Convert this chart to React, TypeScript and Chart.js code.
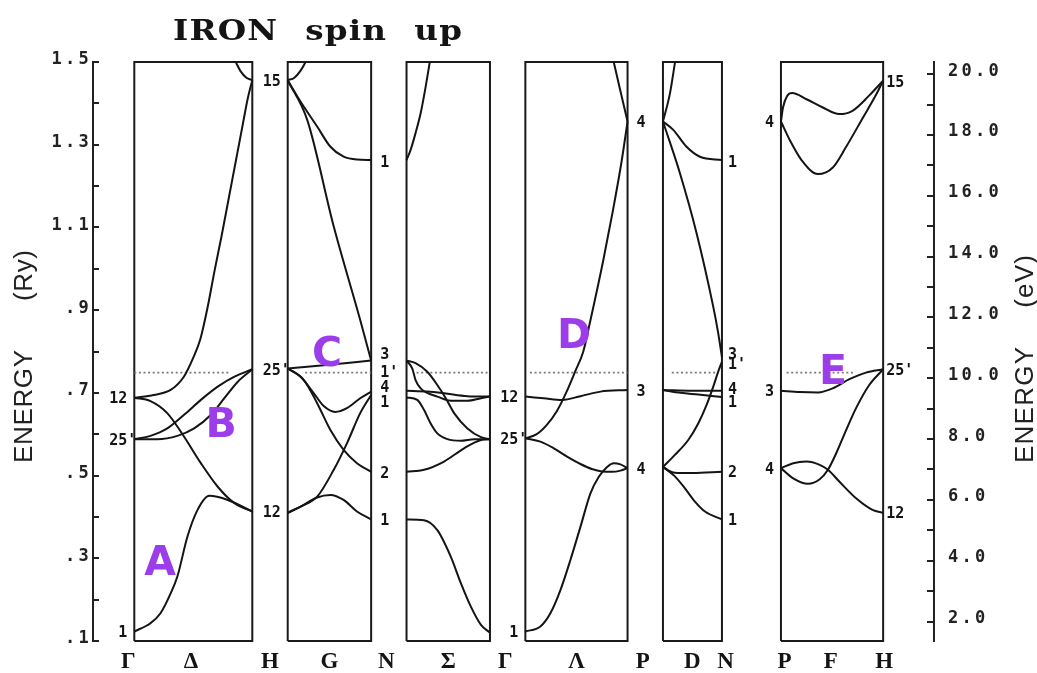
import React, { useEffect, useRef } from 'react';
import { Chart, registerables } from 'chart.js';

Chart.register(...registerables);

// ---------------- data ----------------
const titleText = 'IRON spin up';
const leftAxisTitle = 'ENERGY (Ry)';
const rightAxisTitle = 'ENERGY (eV)';
const kPointLabels = ['Γ', 'Δ', 'H', 'G', 'N', 'Σ', 'Γ', 'Λ', 'P', 'D', 'N', 'P', 'F', 'H'];
const ryTickValues = [0.1, 0.3, 0.5, 0.7, 0.9, 1.1, 1.3, 1.5];
const ryTickLabels = ['.1', '.3', '.5', '.7', '.9', '1.1', '1.3', '1.5'];
const evTickValues = [2, 4, 6, 8, 10, 12, 14, 16, 18, 20];
const evTickLabels = ['2.0', '4.0', '6.0', '8.0', '10.0', '12.0', '14.0', '16.0', '18.0', '20.0'];
const evPerRy = 13.6;
const energyMin = 0.1;
const energyMax = 1.5;
const fermiEnergy = 0.749;

// Brillouin-zone path lengths (2π/a): Γ-H, H-N, N-Γ, Γ-P, P-N, P-H
const panelLengths = [1, 0.7071, 0.7071, 0.866, 0.5, 0.866];

// bands: [k fraction along the segment, energy (Ry)]
const bandsDelta = [
  [[0, 0.123], [0.137, 0.143], [0.222, 0.167], [0.308, 0.215], [0.365, 0.256], [0.45, 0.352], [0.536, 0.417], [0.635, 0.451], [0.792, 0.441], [1, 0.413]],
  [[0, 0.688], [0.137, 0.68], [0.279, 0.651], [0.422, 0.594], [0.564, 0.53], [0.707, 0.473], [0.849, 0.433], [1, 0.413]],
  [[0, 0.688], [0.165, 0.695], [0.308, 0.707], [0.42, 0.739], [0.5, 0.785], [0.56, 0.83], [0.62, 0.905], [0.68, 0.995], [0.74, 1.08], [0.8, 1.17], [0.86, 1.26], [0.92, 1.35], [0.96, 1.41], [1, 1.456]],
  [[0, 0.588], [0.137, 0.596], [0.279, 0.614], [0.422, 0.647], [0.564, 0.683], [0.707, 0.715], [0.849, 0.739], [1, 0.757]],
  [[0, 0.588], [0.194, 0.588], [0.365, 0.596], [0.507, 0.614], [0.65, 0.647], [0.763, 0.687], [0.877, 0.727], [1, 0.757]],
  [[0.84, 1.513], [0.87, 1.494], [0.9, 1.478], [0.95, 1.462], [1, 1.456]],
];
const bandsG = [
  [[0, 1.456], [0.08, 1.462], [0.15, 1.478], [0.214, 1.5], [0.26, 1.521]],
  [[0, 1.456], [0.155, 1.404], [0.353, 1.344], [0.512, 1.295], [0.67, 1.271], [0.83, 1.264], [1, 1.263]],
  [[0, 1.456], [0.234, 1.36], [0.552, 1.102], [0.869, 0.876], [1, 0.778]],
  [[0, 0.759], [0.5, 0.768], [1, 0.778]],
  [[0, 0.759], [0.155, 0.739], [0.313, 0.699], [0.432, 0.668], [0.571, 0.654], [0.71, 0.663], [0.869, 0.687], [1, 0.703]],
  [[0, 0.759], [0.194, 0.731], [0.353, 0.675], [0.512, 0.61], [0.67, 0.562], [0.83, 0.53], [1, 0.509]],
  [[0, 0.41], [0.155, 0.425], [0.353, 0.449], [0.552, 0.514], [0.71, 0.578], [0.869, 0.651], [1, 0.695]],
  [[0, 0.41], [0.155, 0.425], [0.353, 0.447], [0.512, 0.453], [0.67, 0.441], [0.83, 0.413], [1, 0.394]],
];
const bandsSigma = [
  [[0, 1.263], [0.048, 1.287], [0.108, 1.328], [0.169, 1.376], [0.229, 1.44], [0.277, 1.498], [0.31, 1.54]],
  [[0, 0.778], [0.108, 0.772], [0.249, 0.751], [0.369, 0.719], [0.47, 0.687], [0.57, 0.651], [0.73, 0.614], [0.892, 0.593], [1, 0.588]],
  [[0, 0.778], [0.068, 0.759], [0.108, 0.731], [0.169, 0.711], [0.249, 0.7], [0.369, 0.691], [0.53, 0.681], [0.73, 0.681], [0.892, 0.687], [1, 0.691]],
  [[0, 0.705], [0.249, 0.703], [0.45, 0.699], [0.73, 0.692], [1, 0.691]],
  [[0, 0.689], [0.129, 0.683], [0.209, 0.659], [0.289, 0.626], [0.369, 0.602], [0.49, 0.588], [0.651, 0.584], [0.811, 0.588], [1, 0.588]],
  [[0, 0.509], [0.209, 0.514], [0.45, 0.534], [0.69, 0.566], [0.892, 0.586], [1, 0.588]],
  [[0, 0.394], [0.209, 0.392], [0.369, 0.368], [0.53, 0.304], [0.651, 0.24], [0.771, 0.183], [0.892, 0.139], [1, 0.12]],
];
const bandsLambda = [
  [[0, 0.123], [0.147, 0.135], [0.245, 0.167], [0.343, 0.223], [0.441, 0.296], [0.539, 0.376], [0.637, 0.457], [0.719, 0.497], [0.8, 0.521], [0.866, 0.53], [0.931, 0.527], [1, 0.518]],
  [[0, 0.59], [0.147, 0.582], [0.278, 0.566], [0.408, 0.546], [0.539, 0.528], [0.65, 0.516], [0.75, 0.51], [0.85, 0.509], [0.931, 0.512], [1, 0.518]],
  [[0, 0.59], [0.111, 0.6], [0.208, 0.622], [0.306, 0.655], [0.404, 0.703], [0.486, 0.751], [0.567, 0.8], [0.632, 0.87], [0.762, 1.02], [0.86, 1.145], [0.942, 1.26], [1, 1.356]],
  [[0.84, 1.526], [0.92, 1.441], [1, 1.356]],
  [[0, 0.691], [0.18, 0.687], [0.36, 0.683], [0.539, 0.692], [0.735, 0.703], [1, 0.707]],
];
const bandsD = [
  [[0, 1.356], [0.119, 1.424], [0.203, 1.498], [0.24, 1.53]],
  [[0, 1.356], [0.175, 1.336], [0.4, 1.295], [0.627, 1.271], [1, 1.263]],
  [[0, 1.356], [0.288, 1.231], [0.57, 1.086], [0.853, 0.908], [0.93, 0.85], [1, 0.787]],
  [[0, 0.521], [0.203, 0.55], [0.429, 0.586], [0.598, 0.626], [0.74, 0.671], [0.853, 0.715], [0.938, 0.752], [1, 0.775]],
  [[0, 0.521], [0.1, 0.512], [0.2, 0.507], [0.5, 0.506], [1, 0.509]],
  [[0, 0.521], [0.203, 0.498], [0.373, 0.469], [0.542, 0.437], [0.712, 0.413], [1, 0.394]],
  [[0, 0.707], [0.5, 0.705], [1, 0.705]],
  [[0, 0.707], [0.3, 0.7], [0.6, 0.696], [1, 0.69]],
];
const bandsF = [
  [[0, 1.356], [0.02, 1.39], [0.06, 1.418], [0.11, 1.425], [0.25, 1.41], [0.41, 1.39], [0.57, 1.374], [0.7, 1.382], [0.86, 1.418], [1, 1.455]],
  [[0, 1.356], [0.087, 1.311], [0.201, 1.263], [0.362, 1.229], [0.508, 1.245], [0.638, 1.295], [0.799, 1.364], [0.929, 1.42], [1, 1.455]],
  [[0, 0.705], [0.184, 0.702], [0.362, 0.701], [0.508, 0.711], [0.67, 0.733], [0.832, 0.749], [1, 0.757]],
  [[0, 0.518], [0.12, 0.53], [0.249, 0.534], [0.379, 0.526], [0.46, 0.514], [0.573, 0.485], [0.735, 0.445], [0.896, 0.417], [1, 0.41]],
  [[0, 0.518], [0.12, 0.493], [0.265, 0.48], [0.379, 0.491], [0.46, 0.514], [0.541, 0.554], [0.638, 0.61], [0.735, 0.663], [0.864, 0.719], [1, 0.757]],
];
const allBands = [bandsDelta, bandsG, bandsSigma, bandsLambda, bandsD, bandsF];

// dotted Fermi-level segments, as k fractions of each panel
const fermiRanges = [[0, 0.81], [0.21, 1], [0.12, 1], [0.045, 1], [0.15, 0.93], [0.055, 0.73]];

// symmetry labels: [label, energy (Ry)]
const gammaLabelsA = [['12', 0.688], ["25'", 0.588], ['1', 0.123]];
const hLabelsA = [['15', 1.454], ["25'", 0.757], ['12', 0.412]];
const nLabelsA = [['1', 1.259], ['3', 0.796], ["1'", 0.751], ['4', 0.715], ['1', 0.679], ['2', 0.507], ['1', 0.393]];
const gammaLabelsB = [['12', 0.691], ["25'", 0.59], ['1', 0.123]];
const pLabelsA = [['4', 1.357], ['3', 0.705], ['4', 0.516]];
const nLabelsB = [['1', 1.26], ['3', 0.796], ["1'", 0.771], ['4', 0.711], ['1', 0.679], ['2', 0.509], ['1', 0.393]];
const pLabelsB = [['4', 1.356], ['3', 0.705], ['4', 0.518]];
const hLabelsB = [['15', 1.452], ["25'", 0.757], ['12', 0.41]];

// purple region markers
const markerLetters = ['A', 'B', 'C', 'D', 'E'];
const markerPanels = [0, 0, 1, 3, 5];
const markerK = [0.218, 0.735, 0.471, 0.476, 0.509];
const markerEnergy = [0.296, 0.63, 0.801, 0.845, 0.758];

// ---------------- layout ----------------
const W = 1037;
const H = 673;
const panelStarts = [0.35, 1.65, 2.657, 3.664, 4.83, 5.83];
const xMax = 7.127;
const pEnd = (p: number) => panelStarts[p] + panelLengths[p];
const pMid = (p: number) => panelStarts[p] + panelLengths[p] / 2;
const gapMid = (p: number) => (pEnd(p) + panelStarts[p + 1]) / 2;
const kPointPositions = [
  panelStarts[0] - 0.05, pMid(0) - 0.02, gapMid(0), pMid(1), gapMid(1) - 0.02, pMid(2),
  gapMid(2) - 0.02, pMid(3), gapMid(3) - 0.02, pMid(4), pEnd(4) + 0.03, panelStarts[5] + 0.03,
  pMid(5) - 0.01, pEnd(5) + 0.01,
];
const edgeLabelLayout = [
  { labels: gammaLabelsA, panel: 0, side: 'left', gap: 7 },
  { labels: hLabelsA, panel: 1, side: 'left', gap: 7 },
  { labels: nLabelsA, panel: 1, side: 'right', gap: 9 },
  { labels: gammaLabelsB, panel: 3, side: 'left', gap: 7 },
  { labels: pLabelsA, panel: 3, side: 'right', gap: 9 },
  { labels: nLabelsB, panel: 4, side: 'right', gap: 6 },
  { labels: pLabelsB, panel: 5, side: 'left', gap: 7 },
  { labels: hLabelsB, panel: 5, side: 'right', gap: 3 },
];
const INK = '#141414';
const PURPLE = '#9b3de8';

function drawFitted(ctx: any, text: string, x: number, y: number, firstWidth: number, totalWidth: number) {
  ctx.letterSpacing = '0px';
  ctx.wordSpacing = '0px';
  const words = text.split(' ');
  const wFirst = ctx.measureText(words[0]).width;
  const wAll = ctx.measureText(text).width;
  const ls = (firstWidth - wFirst) / Math.max(1, words[0].length - 1);
  const ws = words.length > 1 ? (totalWidth - wAll - (text.length - 1) * ls) / (words.length - 1) : 0;
  ctx.letterSpacing = ls + 'px';
  ctx.wordSpacing = ws + 'px';
  ctx.fillText(text, x, y);
}

// horizontally stretched text (wide typewriter look), still one real text run
function drawStretched(ctx: any, text: string, x: number, y: number, firstWidth: number, totalWidth: number, ls: number) {
  ctx.letterSpacing = '0px';
  ctx.wordSpacing = '0px';
  const words = text.split(' ');
  const wFirst = ctx.measureText(words[0]).width;
  const wAll = ctx.measureText(text).width;
  const sx = firstWidth / (wFirst + (words[0].length - 1) * ls);
  const ws = (totalWidth / sx - wAll - (text.length - 1) * ls) / Math.max(1, words.length - 1);
  ctx.save();
  ctx.translate(x, y);
  ctx.scale(sx, 1);
  ctx.letterSpacing = ls + 'px';
  ctx.wordSpacing = ws + 'px';
  ctx.fillText(text, 0, 0);
  ctx.restore();
}

const textPlugin = {
  id: 'ironText',
  beforeDraw(chart: any) {
    chart.ctx.letterSpacing = '3.3px';
  },
  afterDraw(chart: any) {
    const ctx = chart.ctx;
    const xs = chart.scales.x;
    const ys = chart.scales.y;
    ctx.save();
    ctx.fillStyle = INK;
    ctx.textBaseline = 'alphabetic';
    ctx.textAlign = 'left';

    // title
    ctx.font = 'bold 28px "DejaVu Serif"';
    drawStretched(ctx, titleText, 173, 40, 104, 289, 1);

    // axis titles
    ctx.font = '26px "Liberation Sans"';
    ctx.fillStyle = '#222';
    ctx.save();
    ctx.translate(32, 463);
    ctx.rotate(-Math.PI / 2);
    drawFitted(ctx, leftAxisTitle, 0, 0, 113, 213);
    ctx.restore();
    ctx.save();
    ctx.translate(1033, 463);
    ctx.rotate(-Math.PI / 2);
    drawFitted(ctx, rightAxisTitle, 0, 0, 116, 208);
    ctx.restore();

    // symmetry labels
    ctx.fillStyle = INK;
    ctx.font = 'bold 15px "DejaVu Sans Mono"';
    ctx.letterSpacing = '0px';
    ctx.wordSpacing = '0px';
    edgeLabelLayout.forEach(({ labels, panel, side, gap }) => {
      const xl = xs.getPixelForValue(panelStarts[panel]);
      const xr = xs.getPixelForValue(pEnd(panel));
      labels.forEach(([t, en]: any) => {
        const y = ys.getPixelForValue(en) + 5.4;
        if (side === 'left') {
          const w = ctx.measureText(String(t).replace("'", '')).width;
          ctx.fillText(t, xl - gap - w, y);
        } else {
          ctx.fillText(t, xr + gap, y);
        }
      });
    });

    // purple markers
    ctx.font = 'bold 41px "DejaVu Sans"';
    ctx.fillStyle = PURPLE;
    ctx.textAlign = 'center';
    markerLetters.forEach((m, i) => {
      const p = markerPanels[i];
      const x = xs.getPixelForValue(panelStarts[p] + markerK[i] * panelLengths[p]);
      const y = ys.getPixelForValue(markerEnergy[i]) + 15;
      ctx.fillText(m, x, y);
    });
    ctx.restore();
    ctx.letterSpacing = '0px';
    ctx.wordSpacing = '0px';
  },
};

function buildDatasets() {
  const ds: any[] = [];
  allBands.forEach((bands, p) => {
    bands.forEach((b) => {
      ds.push({
        data: b.map(([k, e]) => ({ x: panelStarts[p] + k * panelLengths[p], y: e })),
        borderColor: INK,
        borderWidth: 2,
        pointRadius: 0,
        cubicInterpolationMode: 'monotone',
        fill: false,
        xAxisID: 'x',
        yAxisID: 'y',
      });
    });
  });
  fermiRanges.forEach(([a, b], p) => {
    ds.push({
      data: [
        { x: panelStarts[p] + a * panelLengths[p], y: fermiEnergy },
        { x: panelStarts[p] + b * panelLengths[p], y: fermiEnergy },
      ],
      borderColor: '#7a7a7a',
      borderWidth: 1.6,
      borderDash: [2, 2.6],
      pointRadius: 0,
      fill: false,
      xAxisID: 'x',
      yAxisID: 'y',
    });
  });
  panelStarts.forEach((s, p) => {
    const e = pEnd(p);
    ds.push({
      data: [
        { x: s, y: energyMin }, { x: s, y: energyMax }, { x: e, y: energyMax },
        { x: e, y: energyMin }, { x: s, y: energyMin },
      ],
      borderColor: '#1a1a1a',
      borderWidth: 2,
      pointRadius: 0,
      tension: 0,
      clip: false,
      borderJoinStyle: 'miter',
      fill: false,
      xAxisID: 'x',
      yAxisID: 'y',
    });
  });
  return ds;
}

export default function App() {
  const ref = useRef<HTMLCanvasElement>(null);
  useEffect(() => {
    const canvas = ref.current;
    if (!canvas) return;
    const tickFont = { family: 'DejaVu Sans Mono', size: 17, weight: 'bold' as const };
    const chart = new Chart(canvas, {
      type: 'line',
      data: { datasets: buildDatasets() },
      plugins: [textPlugin],
      options: {
        responsive: false,
        animation: false,
        devicePixelRatio: 1,
        events: [],
        layout: { padding: { top: 62, left: 0, right: 0, bottom: 0 } },
        plugins: { legend: { display: false }, tooltip: { enabled: false }, title: { display: false } },
        scales: {
          x: {
            type: 'linear',
            position: 'bottom',
            min: 0,
            max: xMax,
            bounds: 'data',
            afterFit: (s: any) => { s.height = H - 641; },
            afterBuildTicks: (s: any) => { s.ticks = kPointPositions.map((v) => ({ value: v })); },
            grid: { display: false, drawTicks: false },
            border: { display: false },
            ticks: {
              autoSkip: false,
              maxRotation: 0,
              minRotation: 0,
              padding: 7,
              labelOffset: 1.6,
              color: INK,
              font: { family: 'Liberation Serif', size: 23, weight: 'bold' },
              callback: (_v: any, i: number) => kPointLabels[i] ?? '',
            },
          },
          y: {
            type: 'linear',
            position: 'left',
            min: energyMin,
            max: energyMax,
            bounds: 'ticks',
            afterFit: (s: any) => { s.width = 93; },
            grid: { drawOnChartArea: false, drawTicks: true, tickLength: -6, lineWidth: 2, color: '#222' },
            border: { display: true, color: '#222', width: 2 },
            ticks: {
              stepSize: 0.1,
              autoSkip: false,
              maxTicksLimit: 100,
              padding: 7,
              labelOffset: -2,
              color: '#222',
              font: tickFont,
              callback: (v: any) => {
                const i = ryTickValues.findIndex((t) => Math.abs(t - Number(v)) < 1e-6);
                return i >= 0 ? ryTickLabels[i] : '';
              },
            },
          },
          yEv: {
            type: 'linear',
            position: 'right',
            min: energyMin * evPerRy,
            max: energyMax * evPerRy,
            bounds: 'ticks',
            afterFit: (s: any) => { s.width = W - 934; },
            grid: { drawOnChartArea: false, drawTicks: true, tickLength: -7, lineWidth: 2, color: '#222' },
            border: { display: true, color: '#222', width: 2 },
            ticks: {
              stepSize: 1,
              includeBounds: false,
              autoSkip: false,
              maxTicksLimit: 100,
              padding: 21,
              labelOffset: -3,
              color: '#222',
              font: tickFont,
              callback: (v: any) => {
                const i = evTickValues.findIndex((t) => Math.abs(t - Number(v)) < 1e-6);
                return i >= 0 ? evTickLabels[i] : '';
              },
            },
          },
        },
      } as any,
    });
    return () => chart.destroy();
  }, []);
  return (
    <div style={{ position: 'fixed', left: 0, top: 0, width: W, height: H, background: '#fff' }}>
      <canvas ref={ref} width={W} height={H} style={{ display: 'block', width: W, height: H }} />
    </div>
  );
}
